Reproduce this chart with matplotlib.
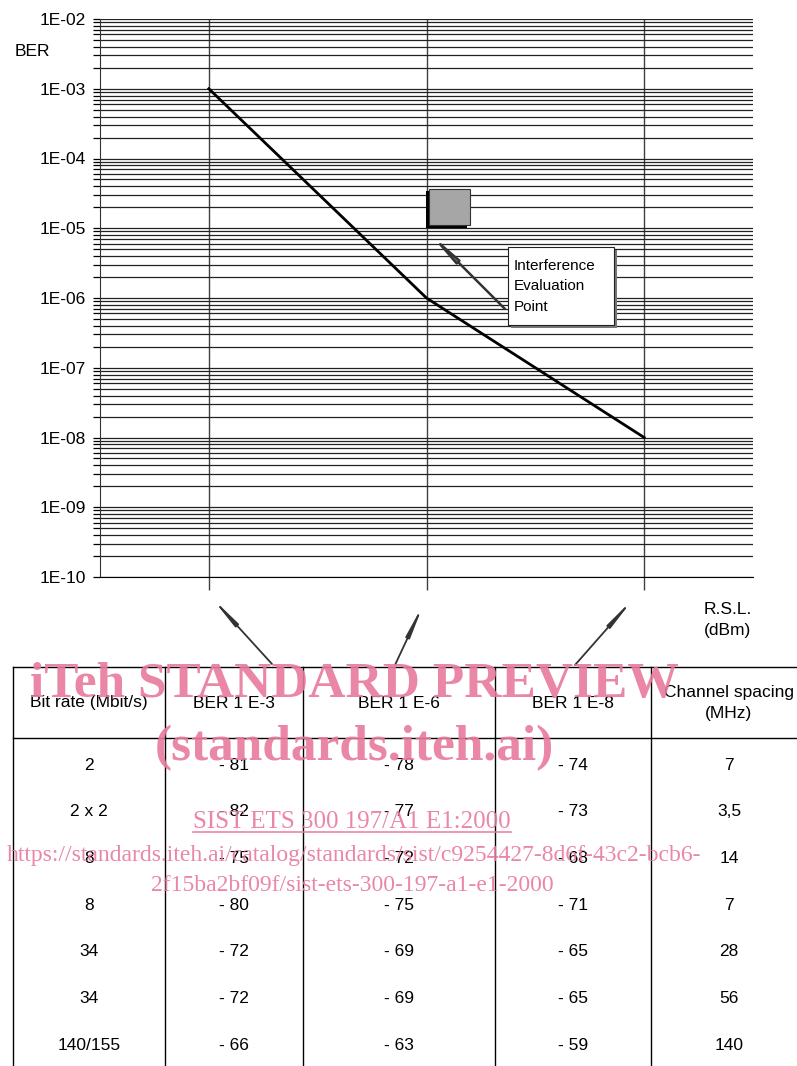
import numpy as np
import matplotlib
matplotlib.use("Agg")
import matplotlib.pyplot as plt
from matplotlib.ticker import LogLocator, NullFormatter, FuncFormatter
from matplotlib.patches import Rectangle
import matplotlib.patheffects as pe

plt.rcParams['font.family'] = ['Liberation Sans', 'DejaVu Sans']

# BER curve (x = column position of the three reference points)
ber_x = [0.5, 1.5, 2.5]
ber_y = [1e-3, 1e-6, 1e-8]
# interference evaluation point (grey square)
eval_x = [1.51, 1.70]
eval_ber = [1.1e-5, 3.7e-5]

# table
headers = ["Bit rate (Mbit/s)", "BER 1 E-3", "BER 1 E-6", "BER 1 E-8", "Channel spacing\n(MHz)"]
bit_rate = ["2", "2 x 2", "8", "8", "34", "34", "140/155"]
rsl_e3 = [-81, -82, -75, -80, -72, -72, -66]
rsl_e6 = [-78, -77, -72, -75, -69, -69, -63]
rsl_e8 = [-74, -73, -68, -71, -65, -65, -59]
spacing = ["7", "3,5", "14", "7", "28", "56", "140"]

W, H = 797, 1066
fig = plt.figure(figsize=(W / 100, H / 100), dpi=100)

ax = fig.add_axes([100 / W, 1 - 577 / H, 653 / W, 558 / H])
ax.set_yscale('log')
ax.set_ylim(1e-10, 1e-2)
ax.set_xlim(0, 3)
ax.plot(ber_x, ber_y, color='black', lw=2.0, zorder=5)

ax.yaxis.set_major_locator(LogLocator(base=10, numticks=20))
ax.yaxis.set_minor_locator(LogLocator(base=10, subs=np.arange(2, 10), numticks=20))
ax.yaxis.set_minor_formatter(NullFormatter())
ax.yaxis.set_major_formatter(FuncFormatter(lambda v, p: "1E-%02d" % round(-np.log10(v))))
ax.grid(which='both', axis='y', color='#222222', lw=0.9)
ax.set_xticks(ber_x)
ax.set_xticklabels([])
ax.grid(axis='x', color='#404040', lw=1.0)
ax.tick_params(axis='x', length=9, width=1.0, color='#404040', direction='out')
ax.tick_params(axis='y', which='both', length=5, width=0.9, direction='out',
               labelsize=12.5, pad=5)
ax.spines['top'].set_visible(False)
ax.spines['right'].set_visible(False)
ax.spines['left'].set_color('#333333')
ax.spines['bottom'].set_color('black')

sq = Rectangle((eval_x[0], eval_ber[0]), eval_x[1] - eval_x[0], eval_ber[1] - eval_ber[0],
               facecolor='#a6a6a6', edgecolor='#333333', lw=0.8, zorder=6)
sq.set_path_effects([pe.SimplePatchShadow(offset=(-2, -2), shadow_rgbFace='black', alpha=1),
                     pe.Normal()])
ax.add_patch(sq)

# overlay in pixel coordinates for annotations and table
ov = fig.add_axes([0, 0, 1, 1])
ov.set_xlim(0, W)
ov.set_ylim(H, 0)
ov.axis('off')

ov.text(15, 52, "BER", fontsize=12.5, ha='left', va='center')
ov.text(728, 609, "R.S.L.", fontsize=12.5, ha='center', va='center')
ov.text(728, 631, "(dBm)", fontsize=12.5, ha='center', va='center')

# interference box
box = Rectangle((508, 247), 106, 78, facecolor='white', edgecolor='#222222', lw=0.8, zorder=4)
box.set_path_effects([pe.SimplePatchShadow(offset=(2, -2), shadow_rgbFace='#777777', alpha=1),
                      pe.Normal()])
ov.add_patch(box)
for i, s in enumerate(["Interference", "Evaluation", "Point"]):
    ov.text(514, 266 + i * 20.5, s, fontsize=11, ha='left', va='center', zorder=5)
ov.annotate('', xy=(429, 233), xytext=(505, 309),
            arrowprops=dict(arrowstyle='-|>,head_length=1.8,head_width=0.14',
                            color='#777777', ec='#333333', lw=1.8, shrinkA=0, shrinkB=0))

# arrows from table columns to the curve points
for tail, tip in [((272, 664), (211, 597)), ((395, 665), (424, 603)), ((575, 665), (634, 598))]:
    ov.annotate('', xy=tip, xytext=tail,
                arrowprops=dict(arrowstyle='-|>,head_length=1.8,head_width=0.12',
                                color='#333333', lw=1.3, shrinkA=0, shrinkB=0))

# table grid
col_edges = [13, 165, 303, 495, 651, 813]
ov.plot([13, W], [667, 667], color='black', lw=1)
ov.plot([13, W], [738, 738], color='black', lw=1)
for x in col_edges[:-1]:
    ov.plot([x, x], [667, H], color='black', lw=1)

centers = [(col_edges[i] + col_edges[i + 1]) / 2 for i in range(5)]
centers[4] = 729
for c, h in zip(centers, headers):
    ov.text(c, 703, h, fontsize=12.5, ha='center', va='center', linespacing=1.5)
rows = list(zip(bit_rate, rsl_e3, rsl_e6, rsl_e8, spacing))
for r, vals in enumerate(rows):
    y = 765 + r * 46.7
    for c, v in zip(centers, vals):
        s = v if isinstance(v, str) else "- %d" % abs(v)
        ov.text(c, y, s, fontsize=12.5, ha='center', va='center')

# watermark
wm = '#e87a9c'
ov.text(354, 697, "iTeh STANDARD PREVIEW", family='Liberation Serif', weight='bold',
        fontsize=37, color=wm, alpha=0.9, ha='center', va='baseline')
ov.text(354, 760, "(standards.iteh.ai)", family='Liberation Serif', weight='bold',
        fontsize=37, color=wm, alpha=0.9, ha='center', va='baseline')
sist = ov.text(352, 828, "SIST ETS 300 197/A1 E1:2000", family='Liberation Serif',
               fontsize=18, color=wm, alpha=0.9, ha='center', va='baseline')
ov.text(354, 861, "https://standards.iteh.ai/catalog/standards/sist/c9254427-8d6f-43c2-bcb6-",
        family='Liberation Serif', fontsize=17, color=wm, alpha=0.9, ha='center', va='baseline')
ov.text(352, 891, "2f15ba2bf09f/sist-ets-300-197-a1-e1-2000",
        family='Liberation Serif', fontsize=17, color=wm, alpha=0.9, ha='center', va='baseline')

fig.canvas.draw()
bb = sist.get_window_extent()
x0, x1 = bb.x0, bb.x1
ov.plot([x0, x1], [832, 832], color=wm, lw=1.2, alpha=0.9)

fig.savefig("out.png", dpi=100)
